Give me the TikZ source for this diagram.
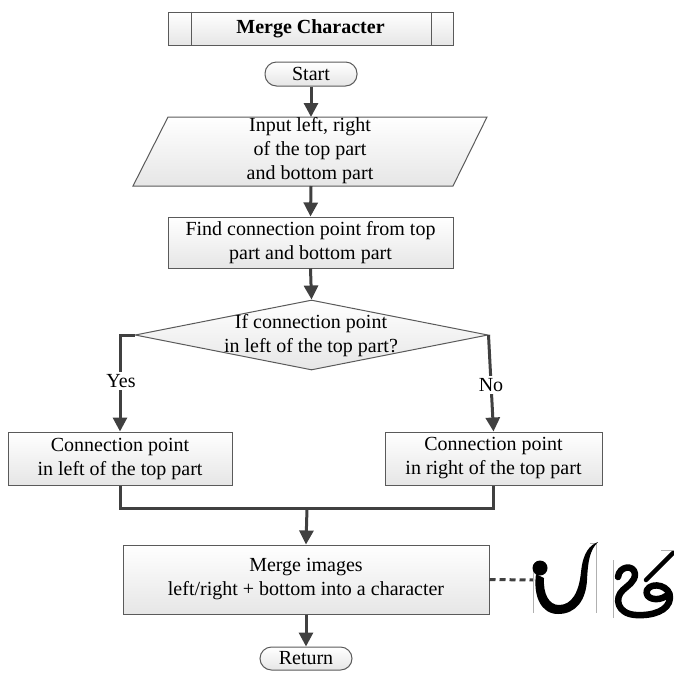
\documentclass[tikz,border=0pt]{standalone}
\usepackage{fontspec}
\setmainfont{Liberation Serif}
\usetikzlibrary{arrows.meta,shapes.geometric}
\definecolor{bordercol}{HTML}{5A5A5A}
\definecolor{arrcol}{HTML}{404040}
\definecolor{fillb}{HTML}{E6E6E6}
\definecolor{framecol}{HTML}{B0B0B0}
\tikzset{
  txt/.style={font=\fontsize{20}{24}\selectfont, align=center, inner sep=0pt},
  box/.style={txt, draw=bordercol, line width=1pt, top color=white, bottom color=fillb},
  term/.style={box, rounded corners=11.5pt},
  arr/.style={line width=3pt, draw=arrcol, -{Triangle[length=14pt,width=14pt]}},
  conn/.style={line width=3pt, draw=arrcol},
  lbl/.style={txt, fill=white, inner sep=2pt},
  glyph/.style={line width=6.5pt, line cap=round, line join=round, draw=black},
  framel/.style={line width=0.8pt, draw=framecol}
}
\begin{document}
\begin{tikzpicture}[x=1pt,y=-1pt]
\useasboundingbox (0,0) rectangle (674,673);

% title
\node[box, minimum width=285pt, minimum height=33pt, font=\fontsize{20}{24}\selectfont\bfseries] (title) at (310.5,28.5) {Merge Character};
\draw[bordercol, line width=1pt] ([xshift=23.5pt]title.north west) -- ([xshift=23.5pt]title.south west);
\draw[bordercol, line width=1pt] ([xshift=-22pt]title.north east) -- ([xshift=-22pt]title.south east);

% start
\node[term, minimum width=92pt, minimum height=24pt] (start) at (311,74) {Start};

% input parallelogram
\coordinate (pBL) at (133,186);
\coordinate (pTL) at (168,117);
\coordinate (pTR) at (487,117);
\coordinate (pBR) at (453,186);
\draw[draw=bordercol, line width=1pt, top color=white, bottom color=fillb] (pBL) -- (pTL) -- (pTR) -- (pBR) -- cycle;
\node[txt] (input) at (310,151) {Input left, right\\of the top part\\and bottom part};
\coordinate (inTop) at (311,117);
\coordinate (inBot) at (311,186);

% find
\node[box, minimum width=285pt, minimum height=51pt] (find) at (310.5,242.5) {Find connection point from top\\part and bottom part};

% decision
\node[diamond, draw=bordercol, line width=1pt, top color=white, bottom color=fillb, minimum width=353pt, minimum height=70pt, inner sep=0pt] (dec) at (311.5,335) {};
\node[txt] (dectext) at (311,336) {If connection point\\in left of the top part?};

% branches
\node[box, minimum width=224pt, minimum height=53pt] (left) at (120,458.5) {Connection point\\in left of the top part};
\node[box, minimum width=217pt, minimum height=53pt] (right) at (493.5,458.5) {Connection point\\in right of the top part};

% merge
\node[box, minimum width=366pt, minimum height=69pt] (merge) at (306,579.5) {Merge images\\left/right + bottom into a character};

% return
\node[term, minimum width=92pt, minimum height=23pt] (ret) at (306,658.5) {Return};

% connectors
\draw[arr] (start.south) -- (inTop);
\draw[arr] (inBot) -- (find.north);
\draw[arr] (find.south) -- (dec.north);
\draw[arr] (dec.west) -| (left.north);
\draw[arr] (dec.east) -- (right.north);
\node[lbl] (yes) at (121,381) {Yes};
\node[lbl] (no) at (491,385) {No};
\coordinate (join) at (307,508);
\draw[conn] (left.south) |- (join) -| (right.south);
\draw[arr] (join) -- (merge.north);
\draw[arr] (merge.south) -- (ret.north);

% images of glyphs
\coordinate (img1) at (534,580);
\draw[line width=3pt, draw=arrcol, dash pattern=on 6pt off 4pt] (merge.east) -- (img1);
\draw[framel] (533,565) -- (533,613);
\draw[framel] (590,543) -- (596,543) -- (596,613);
\draw[framel] (613,560) -- (613,618);
\draw[framel] (661,550) -- (674,550);

% glyph 1
\fill[black] (540,568) circle (7.5pt);
\fill[black] (536,574) .. controls (533,596) and (541,614) .. (558,614)
  .. controls (576,614) and (586,600) .. (587,580)
  .. controls (588,560) and (590,550) .. (598,542)
  .. controls (590,545) and (583,552) .. (581,572)
  .. controls (579,592) and (572,605) .. (559,605)
  .. controls (549,605) and (543,594) .. (544,578) -- cycle;
% glyph 2
\draw[glyph] (618,577) .. controls (619,566) and (634,564) .. (635,574)
  .. controls (635,582) and (627,586) .. (623,590)
  .. controls (614,598) and (617,614) .. (636,615)
  .. controls (652,616) and (669,611) .. (670,598)
  .. controls (671,586) and (652,581) .. (647,590)
  .. controls (644,599) and (658,602) .. (666,596);
\draw[glyph, line width=4.5pt] (646,580) -- (673,553);
\end{tikzpicture}
\end{document}
